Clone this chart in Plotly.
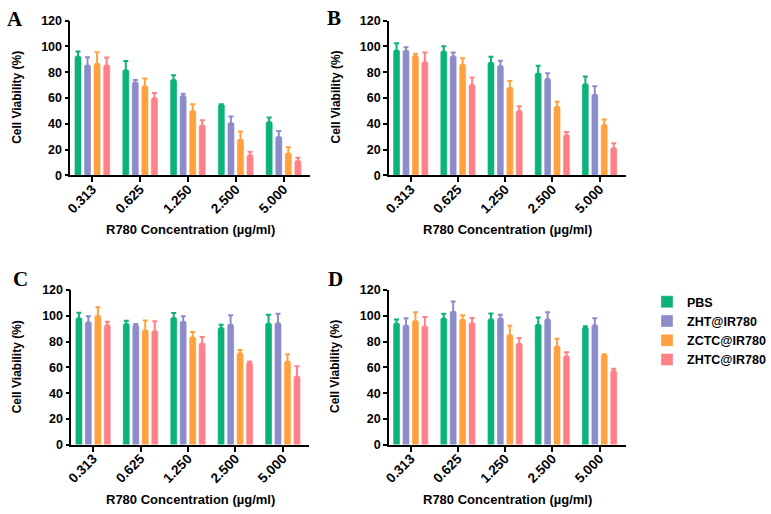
import plotly.graph_objects as go

concentrations = ["0.313", "0.625", "1.250", "2.500", "5.000"]
groups = ["PBS", "ZHT@IR780", "ZCTC@IR780", "ZHTC@IR780"]
colors = ["#0BB27A", "#8C8CCA", "#FFA13C", "#FF8087"]

# mean values per group (PBS, ZHT, ZCTC, ZHTC), one list per panel
A_mean = [[92, 81.3, 73.8, 54.5, 41.2],
          [85, 71.8, 61.3, 40.4, 29.6],
          [86.4, 68.8, 49.7, 27.4, 16.8],
          [85, 59.5, 38.4, 15.3, 10.8]]
A_sd = [[4.0, 7.3, 3.8, 0.7, 3.7],
        [6.6, 2.2, 2.0, 5.3, 4.8],
        [9.0, 6.2, 5.5, 6.5, 5.0],
        [6.4, 4.3, 4.3, 3.0, 2.8]]

B_mean = [[96.7, 95.9, 87.1, 78.8, 70.5],
          [96.4, 92.1, 84.6, 74.6, 62.3],
          [92.4, 85.6, 67.8, 53.0, 38.9],
          [87.6, 69.8, 49.7, 30.9, 20.8]]
B_sd = [[5.7, 4.3, 4.8, 6.1, 6.1],
        [3.0, 3.1, 4.3, 4.5, 6.7],
        [1.8, 5.3, 5.3, 4.0, 4.3],
        [7.6, 6.0, 3.8, 2.7, 4.1]]

C_mean = [[97.9, 93.4, 98.2, 90.4, 93.6],
          [94.9, 92.4, 95.2, 92.9, 94.1],
          [99.7, 88.4, 83.1, 70.8, 64.3],
          [92.6, 87.9, 78.3, 63.0, 52.7]]
C_sd = [[4.5, 2.8, 4.0, 2.7, 7.3],
        [4.8, 1.2, 4.5, 7.5, 7.6],
        [7.0, 8.0, 4.3, 2.8, 6.0],
        [2.8, 8.0, 5.3, 1.5, 8.1]]

D_mean = [[93.9, 97.7, 97.2, 92.9, 90.6],
          [92.4, 103.0, 97.7, 96.9, 92.6],
          [95.9, 96.7, 84.9, 76.1, 69.5],
          [91.6, 94.1, 78.1, 68.3, 57.0]]
D_sd = [[3.3, 4.0, 4.7, 5.8, 1.3],
        [5.8, 8.2, 3.2, 5.8, 5.6],
        [6.8, 3.7, 7.5, 6.2, 0.8],
        [7.6, 4.3, 4.7, 3.5, 2.0]]

panel_labels = ["A", "B", "C", "D"]
y_ticks = [0, 20, 40, 60, 80, 100, 120]
x_title = "R780 Concentration (µg/ml)"
y_title = "Cell Viability (%)"

W, H = 771, 514
FONT = "Liberation Sans, Arial, sans-serif"

panels = [(A_mean, A_sd), (B_mean, B_sd), (C_mean, C_sd), (D_mean, D_sd)]
# pixel boxes for each plot area (left, right, top, bottom)
boxes = [(65, 307, 14, 173), (387, 626, 14, 173), (66, 306, 291, 450), (387, 626, 291, 450)]

fig = go.Figure()
layout_axes = {}
annotations = []

for p, ((means, sds), box) in enumerate(zip(panels, boxes)):
    idx = "" if p == 0 else str(p + 1)
    xa, ya = "x" + idx, "y" + idx
    for g in range(4):
        fig.add_trace(go.Bar(
            x=concentrations, y=means[g], name=groups[g],
            xaxis=xa, yaxis=ya,
            marker=dict(color=colors[g], line=dict(color="rgba(255,255,255,0.35)", width=1)),
            error_y=dict(type="data", symmetric=False, array=sds[g],
                         arrayminus=[0] * len(sds[g]), color=colors[g],
                         thickness=2, width=2.5),
            showlegend=(p == 0), legendgroup=groups[g],
        ))
    l, r, t, b = box
    layout_axes["xaxis" + idx] = dict(
        domain=[l / W, r / W], anchor=ya, type="category",
        range=[-0.46, 4.55], showline=True, linecolor="black", linewidth=1.6,
        ticks="outside", ticklen=5, tickwidth=1.5, tickcolor="black",
        tickangle=-45, ticklabelstandoff=-6,
        tickfont=dict(family=FONT, size=13.5, color="black", weight="bold"),
        showgrid=False, zeroline=False, fixedrange=True,
    )
    layout_axes["yaxis" + idx] = dict(
        domain=[1 - b / H, 1 - t / H], anchor=xa,
        range=[0, 120], tickvals=y_ticks, showline=True, linecolor="black", linewidth=1.6,
        ticks="outside", ticklen=4, tickwidth=1.5, tickcolor="black",
        tickfont=dict(family=FONT, size=12.5, color="black", weight="bold"),
        showgrid=False, zeroline=False, fixedrange=True,
    )
    # axis titles
    annotations.append(dict(text=x_title, xref="paper", yref="paper",
                            x=(l + r) / 2 / W, y=1 - (b + 56) / H, showarrow=False,
                            xanchor="center", yanchor="middle",
                            font=dict(family=FONT, size=13, color="black", weight="bold")))
    annotations.append(dict(text=y_title, xref="paper", yref="paper",
                            x=(l - 54) / W, y=1 - ((t + b) / 2 - 1) / H, showarrow=False,
                            textangle=-90, xanchor="center", yanchor="middle",
                            font=dict(family=FONT, size=12, color="black", weight="bold")))

label_pos = [(9, 12), (331, 11), (15, 280), (333, 280)]
for lab, (lx, ly) in zip(panel_labels, label_pos):
    annotations.append(dict(text=lab, xref="paper", yref="paper",
                            x=lx / W, y=1 - ly / H, showarrow=False,
                            xanchor="center", yanchor="middle",
                            font=dict(family="Liberation Serif, Times New Roman, serif",
                                      size=21, color="black", weight="bold")))

fig.update_layout(
    width=W, height=H, margin=dict(l=0, r=0, t=0, b=0),
    plot_bgcolor="white", paper_bgcolor="white",
    barmode="group", bargap=0.2, bargroupgap=0.27,
    legend=dict(x=648 / W, y=1 - 288 / H, xanchor="left", yanchor="top",
                font=dict(family=FONT, size=12.5, color="black", weight="bold"),
                bgcolor="rgba(0,0,0,0)", tracegroupgap=5, traceorder="normal"),
    annotations=annotations,
    **layout_axes,
)

fig.write_html("out.html", config={"displayModeBar": False},
               post_script="document.body.style.margin='0px';")
